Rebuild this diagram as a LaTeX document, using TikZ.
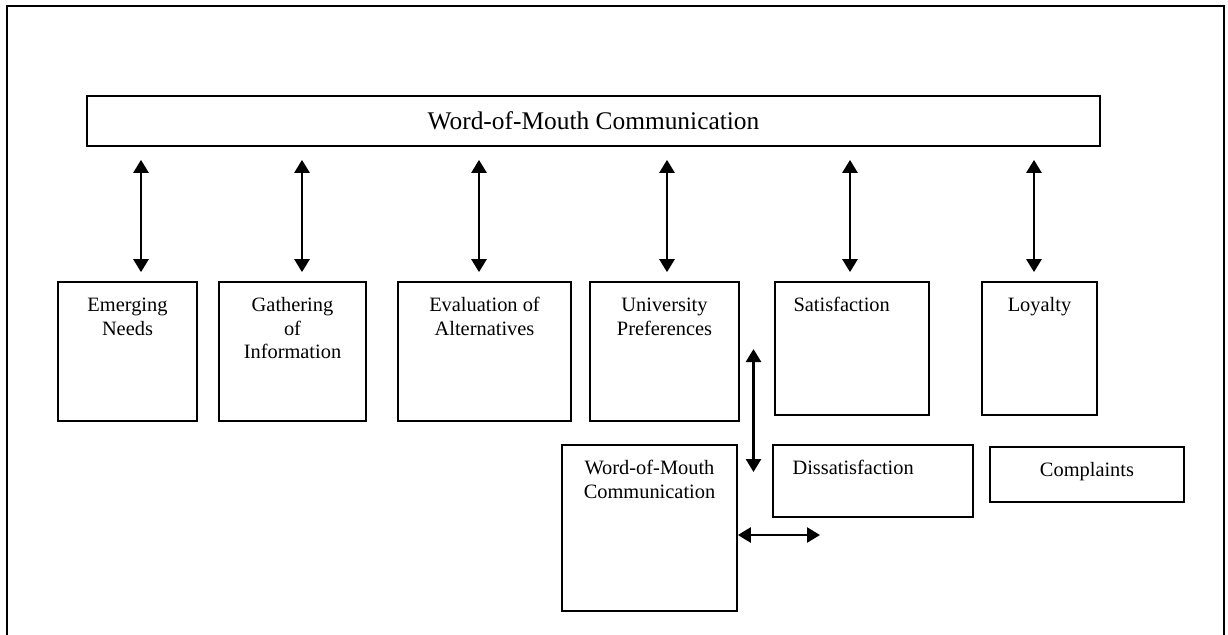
\documentclass[tikz,border=0pt]{standalone}
\usepackage{fontspec}
\setmainfont{Liberation Serif}
\usetikzlibrary{arrows.meta}
\begin{document}
\begin{tikzpicture}[x=0.5pt,y=-0.5pt,
  box/.style={draw, line width=0.85pt, inner sep=0pt, minimum height=69.5pt},
  lbl/.style={font=\fontsize{10.2}{11.8}\selectfont, align=center, inner sep=0pt, anchor=north, yshift=-6.7pt},
  lblw/.style={lbl, anchor=north west},
  dbl/.style={line width=1.3pt, {Triangle[width=7.5pt,length=6.5pt]}-{Triangle[width=7.5pt,length=6.5pt]}},
  vlink/.style={dbl, shorten <=6.5pt, shorten >=4.5pt}
]
\useasboundingbox (0,0) rectangle (1228,634);
\draw[line width=1.2pt] (7,640) -- (7,6) -- (1224,6) -- (1224,640);

\node[box, minimum width=506.5pt, minimum height=25pt, font=\fontsize{12.7}{14}\selectfont] (wom) at (593.5,121) {Word-of-Mouth Communication};

\node[box, minimum width=69.5pt, label={[lbl]north:{\strut Emerging\\Needs}}] (em) at (127.5,351.5) {};
\node[box, minimum width=73.5pt, label={[lbl]north:{\strut Gathering\\of\\Information}}] (ga) at (292.5,351.5) {};
\node[box, minimum width=86.5pt, label={[lbl]north:{\strut Evaluation of\\Alternatives}}] (ev) at (484.5,351.5) {};
\node[box, minimum width=74.5pt, label={[lbl]north:{\strut University\\Preferences}}] (un) at (664.5,351.5) {};
\node[box, minimum width=77pt, minimum height=66.5pt, label={[lblw, xshift=9.5pt]north west:{\strut Satisfaction}}] (sa) at (852,348.5) {};
\node[box, minimum width=57.5pt, minimum height=66.5pt, label={[lbl]north:{\strut Loyalty}}] (lo) at (1039.5,348.5) {};

\node[box, minimum width=87.5pt, minimum height=83pt, label={[lbl]north:{\strut Word-of-Mouth\\Communication}}] (wm) at (649.5,528) {};
\node[box, minimum width=100pt, minimum height=36pt, label={[lblw, xshift=10pt]north west:{\strut Dissatisfaction}}] (di) at (873,481) {};
\node[box, minimum width=97pt, minimum height=27.5pt, label={[lbl]north:{\strut Complaints}}] (co) at (1087,474.5) {};

\coordinate (a1) at (141,0);
\coordinate (a2) at (302,0);
\coordinate (a3) at (479,0);
\coordinate (a4) at (667,0);
\coordinate (a5) at (850,0);
\coordinate (a6) at (1034,0);
\draw[vlink] (wom.south -| a1) -- (em.north -| a1);
\draw[vlink] (wom.south -| a2) -- (ga.north -| a2);
\draw[vlink] (wom.south -| a3) -- (ev.north -| a3);
\draw[vlink] (wom.south -| a4) -- (un.north -| a4);
\draw[vlink] (wom.south -| a5) -- (sa.north -| a5);
\draw[vlink] (wom.south -| a6) -- (lo.north -| a6);

\coordinate (v1) at (753.5,349);
\coordinate (v2) at (753.5,472);
\draw[dbl] (v1) -- (v2);

\coordinate (h1) at (820,535);
\draw[dbl] (wm.east |- h1) -- (h1);
\end{tikzpicture}
\end{document}
